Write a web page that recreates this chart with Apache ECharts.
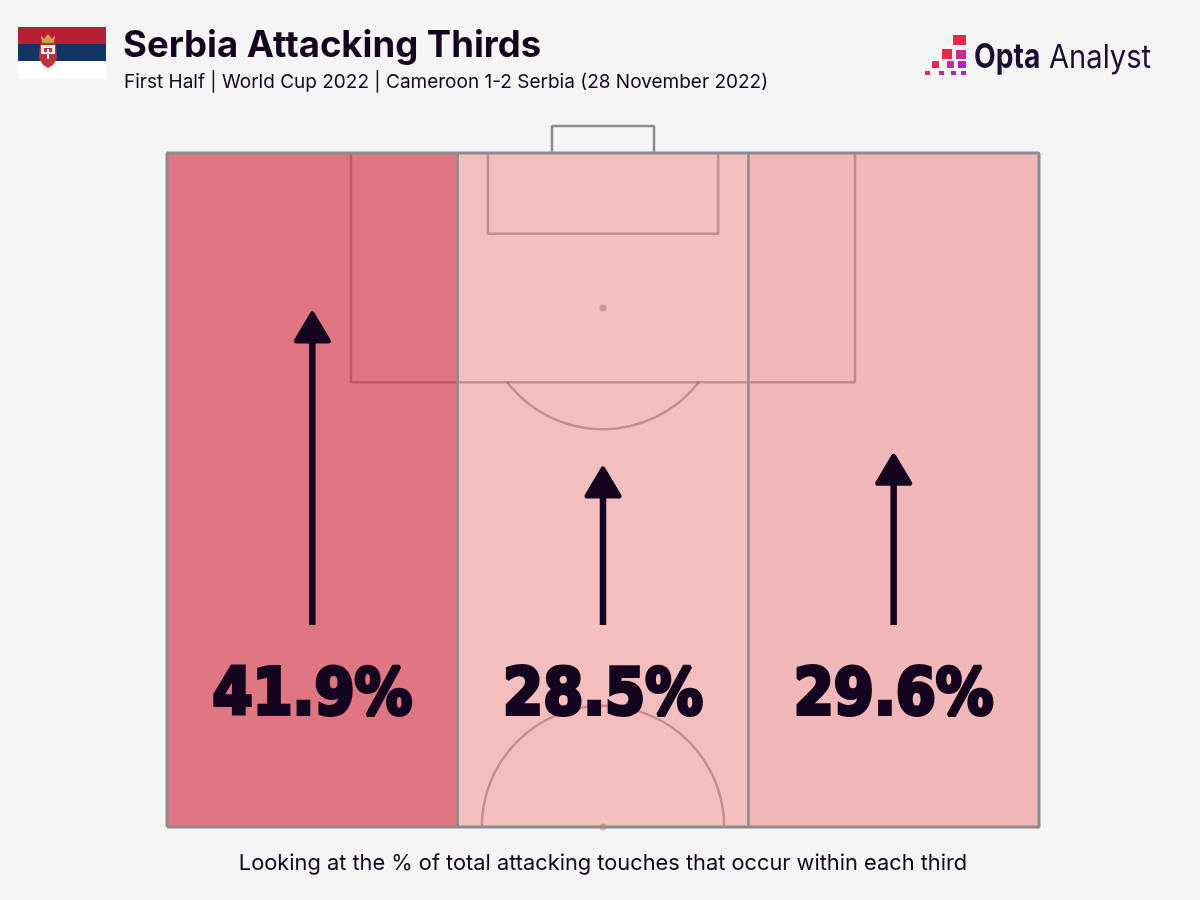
<!DOCTYPE html>
<html style="height: 100%">
<head>
<meta charset="utf-8">
<script src="https://cdn.jsdelivr.net/npm/echarts@6/dist/echarts.min.js"></script>
</head>
<body style="height: 100%; margin: 0; background: #f5f5f5">
<div id="container" style="width: 1200px; height: 900px"></div>
<script>
// data
var thirds = ['Left', 'Centre', 'Right'];
var touchShare = [41.9, 28.5, 29.6];

// pitch lines, Opta coordinates (x across, y up the pitch)
var penaltyBox = [[21.1, 100], [21.1, 83], [78.9, 83], [78.9, 100]];
var sixYardBox = [[36.8, 100], [36.8, 94], [63.2, 94], [63.2, 100]];
var goal = [[44.15, 100], [44.15, 102], [55.85, 102], [55.85, 100]];
var outline = [[0, 50], [0, 100], [100, 100], [100, 50], [0, 50]];
var thirdLines = [[[33.33, 50], [33.33, 100]], [[66.67, 50], [66.67, 100]]];
var penaltySpot = [50, 88.5];
var centreSpot = [50, 50];
var circleRadius = 13.9;

var arrowBase = 14.76;

var ink = '#14041f';
var lineGrey = '#8c8c8c';
var innerLine = 'rgba(105,25,40,0.31)';
var pitchRect = {left: 167, right: 161, top: 153, bottom: 73};

function pitchLine(data, color, width, z) {
    return {
        type: 'line', xAxisIndex: 1, yAxisIndex: 1, data: data, symbol: 'none', silent: true, z: z,
        clip: false,
        lineStyle: {color: color, width: width}
    };
}

function renderArc(params, api) {
    var c = api.coord([api.value(0), api.value(1)]);
    var r = api.size([circleRadius, 0])[0];
    return {
        type: 'arc',
        shape: {cx: c[0], cy: c[1], r: r, startAngle: api.value(2), endAngle: api.value(3), clockwise: true},
        style: {fill: null, stroke: innerLine, lineWidth: 2.5}
    };
}

function renderArrow(params, api) {
    var i = api.value(0);
    var base = api.coord([i, arrowBase]);
    var tip = api.coord([i, api.value(1)]);
    var x = base[0];
    return {
        type: 'group',
        children: [
            {type: 'line', shape: {x1: x, y1: base[1], x2: x, y2: tip[1] + 20}, style: {stroke: ink, lineWidth: 6.5}},
            {
                type: 'polygon',
                shape: {points: [[x, tip[1] + 3], [x + 16, tip[1] + 30], [x - 16, tip[1] + 30]]},
                style: {fill: ink, stroke: ink, lineWidth: 5, lineJoin: 'round'}
            },
            {
                type: 'text',
                x: x, y: base[1] + 72,
                scaleX: 0.9,
                style: {
                    text: api.value(1).toFixed(1) + '%', align: 'center', verticalAlign: 'middle',
                    font: 'bold 64px "DejaVu Sans"', fill: ink, stroke: ink, lineWidth: 4
                }
            }
        ]
    };
}

// logo squares: x, y, w, h, colour
var logoSquares = [
    [953, 35, 13, 10, '#e62a4e'], [942, 49, 10, 10, '#e62a4e'], [956, 50, 10, 9, '#c72a90'],
    [932, 61, 7, 7, '#e62a4e'], [947, 61, 7, 7, '#cc2a8c'], [958, 61, 8, 7, '#a828c0'],
    [925, 71, 5, 4, '#e62a4e'], [939, 71, 5, 4, '#c02aa0'], [951, 71, 5, 4, '#ac28bc'], [961, 71, 5, 4, '#a028c8']
];
var logo = logoSquares.map(function (s) {
    return {type: 'rect', shape: {x: s[0], y: s[1], width: s[2], height: s[3]}, style: {fill: s[4]}};
});

var flag = [
    {type: 'rect', shape: {x: 18, y: 27, width: 88, height: 17}, style: {fill: '#b71f33'}},
    {type: 'rect', shape: {x: 18, y: 44, width: 88, height: 17}, style: {fill: '#0f3563'}},
    {type: 'rect', shape: {x: 18, y: 61, width: 88, height: 18}, style: {fill: '#ffffff'}},
    {type: 'polygon', shape: {points: [[41, 35], [44, 39], [48, 34], [52, 39], [55, 35], [54, 43], [42, 43]]}, style: {fill: '#c8a24a'}},
    {type: 'polygon', shape: {points: [[40, 44], [56, 44], [57, 58], [53, 65], [48, 68], [43, 65], [39, 58]]}, style: {fill: '#c0313c'}},
    {type: 'polygon', shape: {points: [[41, 45], [55, 45], [55, 54], [41, 54]]}, style: {fill: '#f3ecec'}},
    {type: 'polygon', shape: {points: [[44, 48], [52, 48], [52, 58], [48, 62], [44, 58]]}, style: {fill: '#c0313c'}},
    {type: 'polygon', shape: {points: [[47, 49], [49, 49], [49, 59], [47, 59]]}, style: {fill: '#ffffff'}},
    {type: 'polygon', shape: {points: [[44, 52], [52, 52], [52, 54], [44, 54]]}, style: {fill: '#ffffff'}}
];

var texts = [
    {type: 'text', x: 123, y: 46, style: {text: 'Serbia Attacking Thirds', font: 'bold 36.5px Inter', fill: ink, verticalAlign: 'middle'}},
    {type: 'text', x: 124, y: 82, style: {text: 'First Half | World Cup 2022 | Cameroon 1-2 Serbia (28 November 2022)', font: '19px Inter', fill: ink, verticalAlign: 'middle'}},
    {type: 'text', x: 974, y: 58, scaleX: 0.83, style: {text: 'Opta', font: 'bold 34px Inter', fill: '#1c0d33', verticalAlign: 'middle'}},
    {type: 'text', x: 1049, y: 58, scaleX: 0.91, style: {text: 'Analyst', font: '32px Inter', fill: '#1c0d33', verticalAlign: 'middle'}},
    {type: 'text', x: 603, y: 863, style: {text: 'Looking at the % of total attacking touches that occur within each third', font: '21.8px Inter', fill: ink, align: 'center', verticalAlign: 'middle'}}
];

var dom = document.getElementById('container');
var myChart = echarts.init(dom);

var series = [
    {
        type: 'heatmap', xAxisIndex: 0, yAxisIndex: 0, silent: true, z: 1,
        data: touchShare.map(function (v, i) { return [i, 0, v]; })
    },
    pitchLine(penaltyBox, innerLine, 2.5, 2),
    pitchLine(sixYardBox, innerLine, 2.5, 2),
    {
        type: 'custom', xAxisIndex: 1, yAxisIndex: 1, silent: true, z: 2, clip: true,
        renderItem: renderArc,
        data: [
            [penaltySpot[0], penaltySpot[1], Math.PI / 2 - 0.913, Math.PI / 2 + 0.913],
            [centreSpot[0], centreSpot[1], Math.PI, Math.PI * 2]
        ]
    },
    {
        type: 'scatter', xAxisIndex: 1, yAxisIndex: 1, silent: true, z: 2, symbolSize: 7,
        itemStyle: {color: innerLine},
        data: [penaltySpot, centreSpot]
    },
    pitchLine(goal, lineGrey, 2.5, 3),
    pitchLine(outline, lineGrey, 3, 3),
    pitchLine(thirdLines[0], lineGrey, 2.5, 3),
    pitchLine(thirdLines[1], lineGrey, 2.5, 3),
    {
        type: 'custom', xAxisIndex: 2, yAxisIndex: 2, silent: true, z: 5, clip: false,
        renderItem: renderArrow,
        encode: {x: 0, y: 1},
        data: touchShare.map(function (v, i) { return [i, v]; })
    }
];

var option = {
    backgroundColor: '#f5f5f5',
    animation: false,
    grid: [pitchRect, {left: 167, right: 161, top: 126, bottom: 73}, pitchRect],
    xAxis: [
        {type: 'category', gridIndex: 0, data: thirds, show: false},
        {type: 'value', gridIndex: 1, min: 0, max: 100, show: false},
        {type: 'category', gridIndex: 2, data: thirds, show: false}
    ],
    yAxis: [
        {type: 'category', gridIndex: 0, data: ['Pitch'], show: false},
        {type: 'value', gridIndex: 1, min: 50, max: 102, show: false},
        {type: 'value', gridIndex: 2, min: -2.7, max: 55.55, show: false}
    ],
    visualMap: {
        show: false, seriesIndex: 0, dimension: 2, min: 28.5, max: 41.9,
        inRange: {color: ['#f4bebe', '#df7681']}
    },
    graphic: flag.concat(logo, texts),
    series: series
};
myChart.setOption(option);
</script>
</body>
</html>
